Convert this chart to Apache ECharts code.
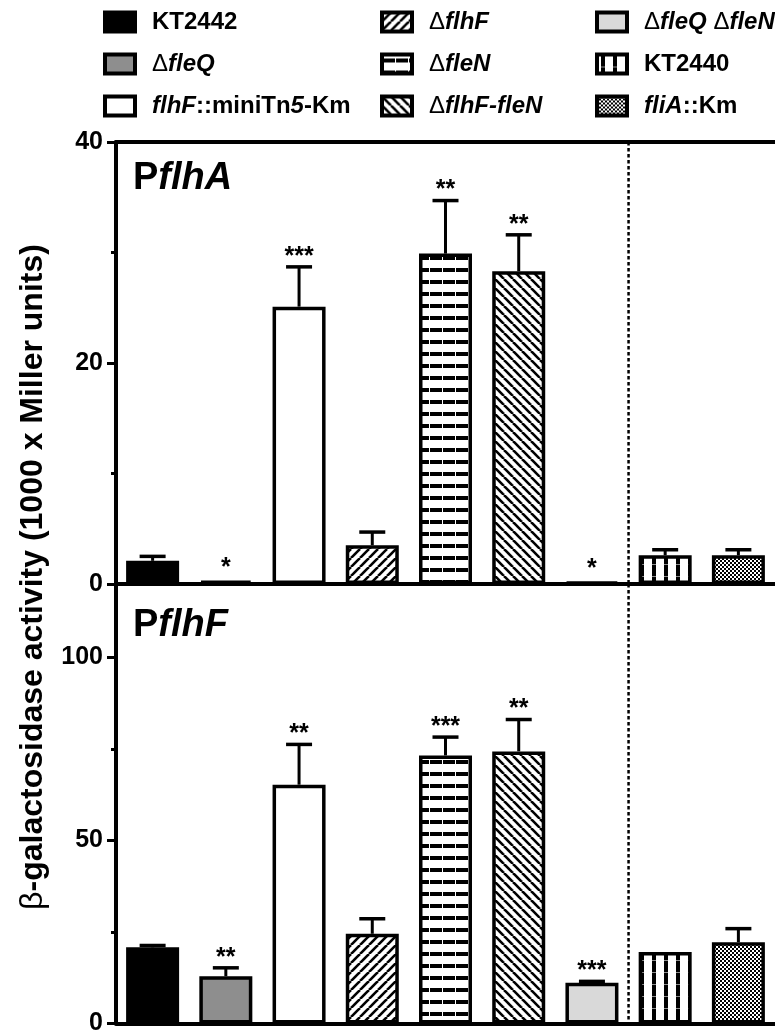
<!DOCTYPE html>
<html><head><meta charset="utf-8">
<script src="https://cdn.jsdelivr.net/npm/echarts@6/dist/echarts.min.js"></script>
<style>html,body{margin:0;padding:0;background:#fff}#c{width:775px;height:1036px}</style>
</head><body><div id="c"></div>
<script>
// ---------------- data ----------------
const categories = ['KT2442', 'ΔfleQ', 'flhF::miniTn5-Km', 'ΔflhF', 'ΔfleN', 'ΔflhF-fleN', 'ΔfleQ ΔfleN', 'KT2440', 'fliA::Km'];
const flhA_mean = [2.1, 0.3, 25.1, 3.5, 29.9, 28.3, 0.2, 2.6, 2.6];
const flhA_err  = [0.4, 0, 3.6, 1.2, 4.8, 3.3, 0, 0.5, 0.5];
const flhA_sig  = ['', '*', '***', '', '**', '**', '*', '', ''];
const flhF_mean = [20.8, 12.9, 65.2, 24.5, 73.2, 74.3, 11.1, 19.5, 22.2];
const flhF_err  = [0.5, 2.3, 11.0, 4.1, 5.0, 8.7, 0.4, 0, 3.7];
const flhF_sig  = ['', '**', '**', '', '***', '**', '***', '', ''];
const flhA_ticks = [0, 20, 40];
const flhF_ticks = [0, 50, 100];
const dividerAfter = 'ΔfleQ ΔfleN';
const yTitle = 'β-galactosidase activity (1000 x Miller units)';
const panelTitles = ['PflhA', 'PflhF'];
// --------------------------------------

const FONT = "'Liberation Sans', Arial, Helvetica, sans-serif";

function makePattern(type) {
  const c = document.createElement('canvas');
  let w = 9, h = 9;
  if (type === 'hbrick') { w = 13; h = 12; }
  if (type === 'vlines') { w = 12; h = 12; }
  if (type === 'checker') { w = 4; h = 4; }
  c.width = w; c.height = h;
  const ctx = c.getContext('2d');
  ctx.fillStyle = '#fff'; ctx.fillRect(0, 0, w, h);
  ctx.fillStyle = '#000'; ctx.strokeStyle = '#000';
  if (type === 'diagUp' || type === 'diagDown') {
    ctx.lineWidth = 2.6;
    for (const o of [-w, 0, w]) {
      ctx.beginPath();
      if (type === 'diagUp') { ctx.moveTo(o, h); ctx.lineTo(o + w, 0); }
      else { ctx.moveTo(o, 0); ctx.lineTo(o + w, h); }
      ctx.stroke();
    }
  } else if (type === 'hbrick') {
    ctx.fillRect(0, 4, w, 4);
    ctx.fillStyle = '#fff'; ctx.fillRect(0, 4, 1, 4);
  } else if (type === 'vlines') {
    ctx.fillRect(4, 0, 4, h);
    ctx.fillStyle = 'rgba(255,255,255,0.55)'; ctx.fillRect(4, 0, 4, 1);
  } else if (type === 'checker') {
    ctx.fillRect(0, 0, 2, 2); ctx.fillRect(2, 2, 2, 2);
  }
  return { image: c, repeat: 'repeat' };
}

const fills = ['#000000', '#8e8e8e', '#ffffff', makePattern('diagUp'), makePattern('hbrick'),
  makePattern('diagDown'), '#d9d9d9', makePattern('vlines'), makePattern('checker')];

const richLegend = {
  b: { fontFamily: FONT, fontSize: 24, fontWeight: 'bold', color: '#000', lineHeight: 23 },
  i: { fontFamily: FONT, fontSize: 24, fontWeight: 'bold', fontStyle: 'italic', color: '#000', lineHeight: 23 },
  d: { fontFamily: FONT, fontSize: 24, fontWeight: 'normal', color: '#000', lineHeight: 23 }
};
const legendRich = {
  'KT2442': '{b|KT2442}',
  'ΔfleQ': '{d|Δ}{i|fleQ}',
  'flhF::miniTn5-Km': '{i|flhF}{b|::miniTn}{i|5}{b|-Km}',
  'ΔflhF': '{d|Δ}{i|flhF}',
  'ΔfleN': '{d|Δ}{i|fleN}',
  'ΔflhF-fleN': '{d|Δ}{i|flhF-fleN}',
  'ΔfleQ ΔfleN': '{d|Δ}{i|fleQ }{d|Δ}{i|fleN}',
  'KT2440': '{b|KT2440}',
  'fliA::Km': '{i|fliA}{b|::Km}'
};

const legendLefts = [103, 380, 595];
const legends = [0, 1, 2].map(k => ({
  data: categories.slice(k * 3, k * 3 + 3),
  orient: 'vertical', left: legendLefts[k], top: 10, padding: 0,
  itemWidth: 30, itemHeight: 19, itemGap: 18, icon: 'rect',
  selectedMode: false,
  formatter: n => legendRich[n] || n,
  textStyle: { rich: richLegend, padding: [0, 0, 0, 12] },
  itemStyle: { borderColor: '#000', borderWidth: 4 }
}));

const panels = [
  { mean: flhA_mean, err: flhA_err, sig: flhA_sig, max: 40, interval: 20, minor: 10 },
  { mean: flhF_mean, err: flhF_err, sig: flhF_sig, max: 120, interval: 50, minor: 25 }
];

const axisLineStyle = { color: '#000', width: 4 };
const xAxes = [], yAxes = [], series = [];
panels.forEach((p, g) => {
  const xi = xAxes.length;
  xAxes.push({ gridIndex: g, type: 'category', data: categories, position: 'bottom',
    axisLine: { onZero: false, lineStyle: axisLineStyle }, axisTick: { show: false }, axisLabel: { show: false } });
  if (g === 0) {
    xAxes.push({ gridIndex: g, type: 'category', data: categories, position: 'top',
      axisLine: { onZero: false, lineStyle: axisLineStyle }, axisTick: { show: false }, axisLabel: { show: false } });
  }
  const yi = yAxes.length;
  yAxes.push({ gridIndex: g, type: 'value', min: 0, max: p.max, interval: p.interval, position: 'left',
    axisLine: { show: true, lineStyle: axisLineStyle },
    axisTick: { show: true, length: 9, lineStyle: { color: '#000', width: 3 } },
    splitLine: { show: false },
    axisLabel: { show: true, showMaxLabel: p.max % p.interval === 0, margin: 13, fontFamily: FONT, fontSize: 25,
      fontWeight: 'bold', color: '#000' } });
  yAxes.push({ gridIndex: g, type: 'value', min: 0, max: p.max, interval: p.minor, position: 'left',
    axisLine: { show: false }, axisTick: { show: true, length: 5, lineStyle: { color: '#000', width: 3 } },
    splitLine: { show: false }, axisLabel: { show: false } });

  categories.forEach((name, k) => {
    series.push({
      name, type: 'bar', xAxisIndex: xi, yAxisIndex: yi,
      data: categories.map((_, j) => j === k ? p.mean[j] : '-'),
      barWidth: 53, barGap: '-100%', silent: true,
      itemStyle: { color: fills[k], borderColor: '#000', borderWidth: 3.5 }
    });
  });

  series.push({
    type: 'custom', xAxisIndex: xi, yAxisIndex: yi, z: 5, silent: true, clip: false,
    data: p.mean.map((m, i) => [i, m, p.err[i]]),
    renderItem(params, api) {
      const idx = api.value(0), m = api.value(1), e = api.value(2);
      const sig = p.sig[params.dataIndex];
      const top = api.coord([idx, m]);
      const cap = api.coord([idx, m + e]);
      const ch = [];
      if (e > 0) {
        ch.push({ type: 'line', shape: { x1: top[0], y1: top[1], x2: cap[0], y2: cap[1] },
          style: { stroke: '#000', lineWidth: 3 } });
        ch.push({ type: 'line', shape: { x1: cap[0] - 13, y1: cap[1], x2: cap[0] + 13, y2: cap[1] },
          style: { stroke: '#000', lineWidth: 3.5 } });
      }
      if (sig) {
        const y = e > 0 ? cap[1] - 10 : top[1] - 13;
        ch.push({ type: 'text', x: cap[0], y,
          style: { text: sig, fontFamily: FONT, fontSize: 25, fontWeight: 'bold', fill: '#000',
            align: 'center', verticalAlign: 'middle' } });
      }
      return { type: 'group', children: ch };
    }
  });

  const divIdx = categories.indexOf(dividerAfter);
  series.push({
    type: 'custom', xAxisIndex: xi, yAxisIndex: yi, z: 4, silent: true, clip: false,
    data: [[divIdx, 0]],
    renderItem(params, api) {
      const cs = params.coordSys;
      const x = api.coord([api.value(0), 0])[0] + api.size([1, 0])[0] / 2;
      return { type: 'line', shape: { x1: x, y1: cs.y, x2: x, y2: cs.y + cs.height },
        style: { stroke: '#000', lineWidth: 2.5, lineDash: [3.5, 2.5] } };
    }
  });
});

function panelTitle(t) {
  return '{p|' + t.charAt(0) + '}{i|' + t.slice(1) + '}';
}
const titleRich = {
  p: { fontFamily: FONT, fontSize: 38, fontWeight: 'bold', fill: '#000' },
  i: { fontFamily: FONT, fontSize: 38, fontWeight: 'bold', fontStyle: 'italic', fill: '#000' }
};

const chart = echarts.init(document.getElementById('c'), null, { renderer: 'canvas' });
chart.setOption({
  animation: false,
  backgroundColor: '#fff',
  legend: legends,
  grid: [
    { left: 116, top: 142, width: 662, height: 442 },
    { left: 116, top: 584, width: 662, height: 442 }
  ],
  xAxis: xAxes,
  yAxis: yAxes,
  series,
  graphic: [
    { type: 'text', x: 133, y: 179, z: 10,
      style: { text: panelTitle(panelTitles[0]), rich: titleRich, verticalAlign: 'middle' } },
    { type: 'text', x: 133, y: 626, z: 10,
      style: { text: panelTitle(panelTitles[1]), rich: titleRich, verticalAlign: 'middle' } },
    { type: 'text', x: 33, y: 577, rotation: Math.PI / 2, z: 10,
      style: { text: '{g|' + yTitle.charAt(0) + '}{b|' + yTitle.slice(1) + '}',
        rich: { g: { fontFamily: FONT, fontSize: 32, fontWeight: 'normal', fill: '#000' },
                b: { fontFamily: FONT, fontSize: 32, fontWeight: 'bold', fill: '#000' } },
        align: 'center', verticalAlign: 'middle' } }
  ]
});
</script>
</body></html>
